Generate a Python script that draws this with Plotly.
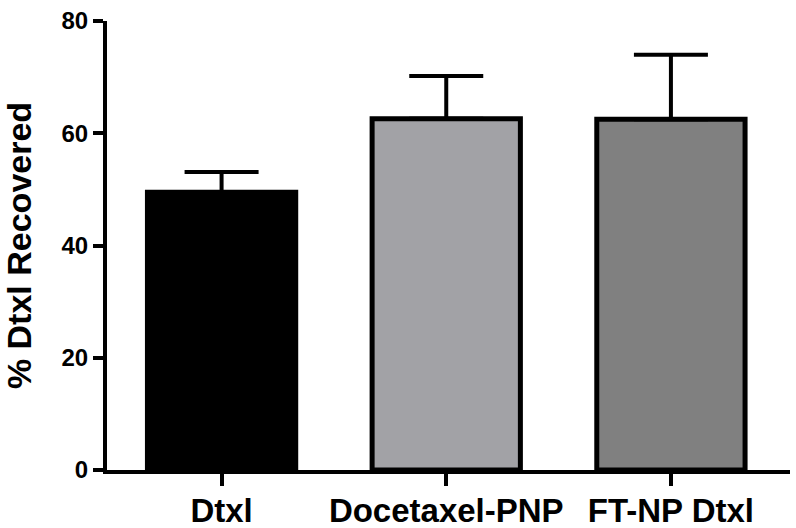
import plotly.graph_objects as go

# Data
groups = ['Dtxl', 'Docetaxel-PNP', 'FT-NP Dtxl']
recovered = [49.5, 62.6, 62.5]
err_up = [3.6, 7.6, 11.5]
fills = ['#000000', '#a2a2a6', '#808080']
y_ticks = [0, 20, 40, 60, 80]

pos = list(range(len(groups)))
font_family = 'Liberation Sans, Arial, sans-serif'

fig = go.Figure(go.Bar(
    x=pos,
    y=recovered,
    width=0.66,
    marker=dict(color=fills, line=dict(color='black', width=5)),
    error_y=dict(type='data', symmetric=False, array=err_up,
                 arrayminus=[0] * len(err_up),
                 color='black', thickness=4, width=37),
))

fig.update_layout(
    width=796,
    height=528,
    margin=dict(l=107, r=6, t=21, b=58),
    plot_bgcolor='white',
    paper_bgcolor='white',
    showlegend=False,
    font=dict(family=font_family, color='black', weight='bold'),
    xaxis=dict(
        range=[-0.51, 2.53],
        tickvals=pos,
        ticktext=groups,
        tickfont=dict(size=33, weight='bold'),
        ticklabelstandoff=-4,
        automargin=False,
        showline=True,
        linewidth=4,
        linecolor='black',
        ticks='outside',
        ticklen=12,
        tickwidth=4,
        tickcolor='black',
        showgrid=False,
        zeroline=False,
    ),
    yaxis=dict(
        range=[0, 80],
        tickvals=y_ticks,
        tickfont=dict(size=24, weight='bold'),
        ticklabelstandoff=0,
        automargin=False,
        title=dict(text='% Dtxl Recovered', font=dict(size=34, weight='bold'), standoff=22),
        showline=True,
        linewidth=4,
        linecolor='black',
        ticks='outside',
        ticklen=10,
        tickwidth=4,
        tickcolor='black',
        showgrid=False,
        zeroline=False,
    ),
)

# drop the browser's default body margin so the figure sits at the page corner
fig.write_html('out.html', config={'displayModeBar': False},
               post_script="document.body.style.margin='0';")
